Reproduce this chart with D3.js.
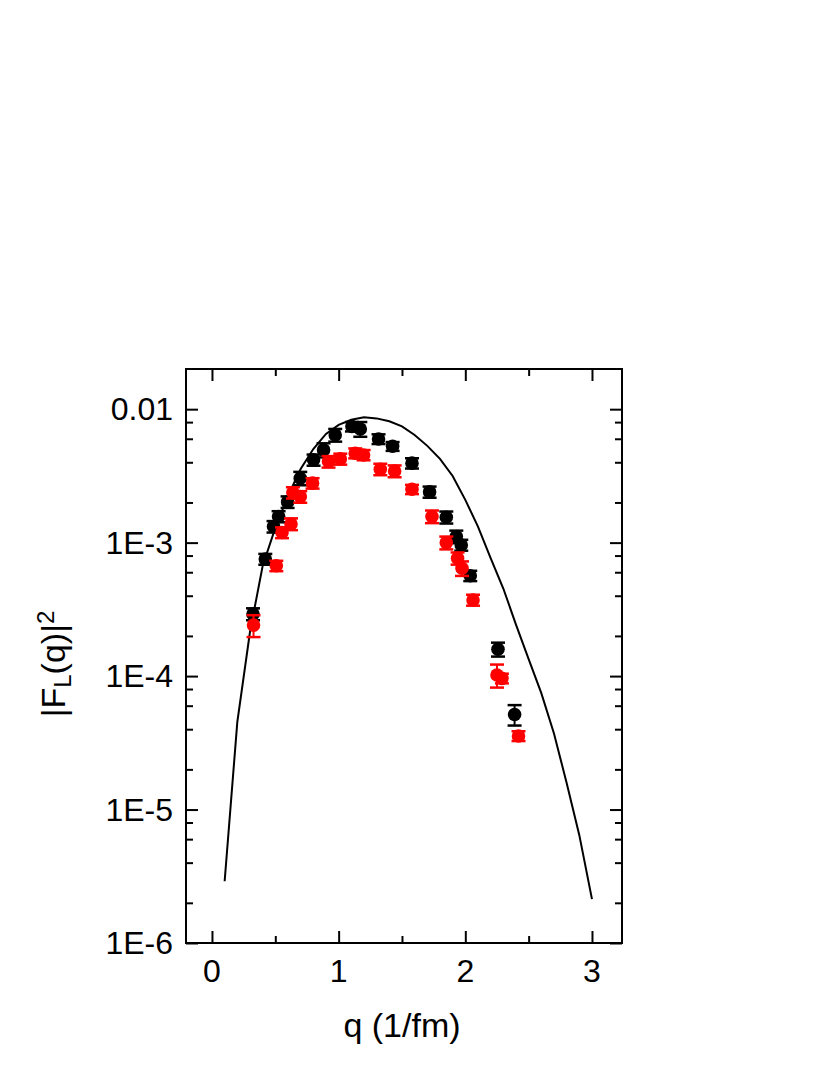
<!DOCTYPE html>
<html>
<head>
<meta charset="utf-8">
<script src="https://cdn.jsdelivr.net/npm/d3@7"></script>
<style>
  body { margin: 0; background: #fff; }
  text { font-family: "Liberation Sans", Arial, sans-serif; fill: #000; }
</style>
</head>
<body>
<div id="chart"></div>
<script>
// measured data (black set)
var qBlack = [0.324, 0.421, 0.486, 0.526, 0.597, 0.697, 0.802, 0.881, 0.973, 1.105, 1.171,
              1.315, 1.426, 1.579, 1.718, 1.850, 1.929, 1.968, 2.039, 2.258, 2.389];
var fBlack = [2.92e-4, 7.53e-4, 1.32e-3, 1.57e-3, 2.02e-3, 3.04e-3, 4.17e-3, 4.95e-3, 6.41e-3, 7.41e-3, 7.11e-3,
              5.98e-3, 5.27e-3, 3.94e-3, 2.40e-3, 1.55e-3, 1.11e-3, 9.6e-4, 5.65e-4, 1.59e-4, 5.16e-5];
var eBlack = [0.3e-4, 0.7e-4, 1.3e-4, 1.5e-4, 2.0e-4, 3.5e-4, 4.0e-4, 6.0e-4, 7.0e-4, 6.0e-4, 9.0e-4,
              5.0e-4, 4.0e-4, 3.5e-4, 2.3e-4, 1.6e-4, 1.2e-4, 0.9e-4, 0.5e-4, 0.19e-4, 0.9e-5];

// measured data (red set)
var qRed = [0.328, 0.508, 0.553, 0.624, 0.639, 0.697, 0.794, 0.920, 1.013, 1.131, 1.197,
            1.329, 1.442, 1.579, 1.737, 1.850, 1.939, 1.974, 2.061, 2.250, 2.289, 2.420];
var fRed = [2.41e-4, 6.71e-4, 1.19e-3, 1.38e-3, 2.37e-3, 2.21e-3, 2.79e-3, 4.05e-3, 4.24e-3, 4.68e-3, 4.54e-3,
            3.55e-3, 3.44e-3, 2.51e-3, 1.57e-3, 1.00e-3, 7.64e-4, 6.43e-4, 3.72e-4, 1.02e-4, 9.62e-5, 3.56e-5];
var eRed = [0.45e-4, 0.6e-4, 1.1e-4, 1.4e-4, 2.3e-4, 2.2e-4, 2.5e-4, 4.0e-4, 4.0e-4, 4.0e-4, 4.0e-4,
            3.5e-4, 3.5e-4, 2.0e-4, 1.7e-4, 1.1e-4, 0.8e-4, 0.8e-4, 0.35e-4, 2.0e-5, 0.8e-5, 0.3e-5];

// theory curve
var qCurve = [0.1, 0.2, 0.3, 0.4, 0.5, 0.6, 0.7, 0.8, 0.9, 1.0, 1.1, 1.2, 1.3, 1.4, 1.5,
              1.6, 1.7, 1.8, 1.9, 2.0, 2.1, 2.2, 2.3, 2.4, 2.5, 2.6, 2.7, 2.8, 2.9, 3.0];
var fCurve = [2.9e-6, 4.52e-5, 2.14e-4, 6.68e-4, 1.29e-3, 2.24e-3, 3.56e-3, 5.03e-3, 6.53e-3, 7.62e-3,
              8.32e-3, 8.71e-3, 8.53e-3, 8.11e-3, 7.43e-3, 6.41e-3, 5.31e-3, 4.24e-3, 3.16e-3, 2.09e-3,
              1.32e-3, 7.67e-4, 4.53e-4, 2.43e-4, 1.34e-4, 7.45e-5, 3.72e-5, 1.58e-5, 6.43e-6, 2.13e-6];

var xTicks = [0, 1, 2, 3];
var yTicks = [1e-6, 1e-5, 1e-4, 1e-3, 1e-2];
var yTickLabels = ["1E-6", "1E-5", "1E-4", "1E-3", "0.01"];

// layout
var W = 830, H = 1075;
var margin = {top: 369, right: 208, bottom: 132, left: 186};
var width = W - margin.left - margin.right;
var height = H - margin.top - margin.bottom;

var svg = d3.select("#chart")
  .append("svg")
  .attr("width", W)
  .attr("height", H)
  .append("g")
  .attr("transform", "translate(" + margin.left + "," + margin.top + ")");

var x = d3.scaleLinear().domain([-0.205, 3.237]).range([0, width]);
var y = d3.scaleLog().domain([1e-6, 0.0200]).range([height, 0]);

// minor ticks
var xMinor = [0.5, 1.5, 2.5];
var yMinor = [];
yTicks.forEach(function(d) {
  [2, 4, 6, 8].forEach(function(m) {
    if (d * m < y.domain()[1] * 0.999) yMinor.push(d * m);
  });
});

var major = 12, minor = 7;

// bottom and top axes
svg.append("g")
  .attr("transform", "translate(0," + height + ")")
  .call(d3.axisBottom(x).tickValues(xTicks).tickSize(-major).tickFormat(""));
svg.append("g")
  .attr("transform", "translate(0," + height + ")")
  .call(d3.axisBottom(x).tickValues(xMinor).tickSize(-minor).tickFormat(""));
svg.append("g")
  .call(d3.axisTop(x).tickValues(xTicks).tickSize(-major).tickFormat(""));
svg.append("g")
  .call(d3.axisTop(x).tickValues(xMinor).tickSize(-minor).tickFormat(""));

// left and right axes
svg.append("g")
  .call(d3.axisLeft(y).tickValues(yTicks).tickSize(-major).tickFormat(""));
svg.append("g")
  .call(d3.axisLeft(y).tickValues(yMinor).tickSize(-minor).tickFormat(""));
svg.append("g")
  .attr("transform", "translate(" + width + ",0)")
  .call(d3.axisRight(y).tickValues(yTicks).tickSize(-major).tickFormat(""));
svg.append("g")
  .attr("transform", "translate(" + width + ",0)")
  .call(d3.axisRight(y).tickValues(yMinor).tickSize(-minor).tickFormat(""));

svg.selectAll(".domain").remove();
svg.selectAll(".tick line").attr("stroke", "#000").attr("stroke-width", 2);

// frame
svg.append("rect")
  .attr("width", width)
  .attr("height", height)
  .attr("fill", "none")
  .attr("stroke", "#000")
  .attr("stroke-width", 2);

// tick labels
svg.selectAll(".xlab")
  .data(xTicks)
  .enter()
  .append("text")
  .attr("x", function(d) { return x(d); })
  .attr("y", height + 39)
  .attr("text-anchor", "middle")
  .style("font-size", "32px")
  .text(function(d) { return d; });

svg.selectAll(".ylab")
  .data(yTicks)
  .enter()
  .append("text")
  .attr("x", -13)
  .attr("y", function(d) { return y(d) + 11; })
  .attr("text-anchor", "end")
  .style("font-size", "32px")
  .text(function(d, i) { return yTickLabels[i]; });

// axis titles
svg.append("text")
  .attr("x", x(1.5))
  .attr("y", height + 94)
  .attr("text-anchor", "middle")
  .style("font-size", "34px")
  .text("q (1/fm)");

var yt = svg.append("text")
  .attr("transform", "translate(" + (65 - margin.left) + "," + (664 - margin.top) + ") rotate(-90)")
  .attr("text-anchor", "middle")
  .style("font-size", "34px");
yt.append("tspan").text("|F");
yt.append("tspan").attr("baseline-shift", "-25%").style("font-size", "24px").text("L");
yt.append("tspan").text("(q)|");
yt.append("tspan").attr("baseline-shift", "45%").style("font-size", "24px").text("2");

// theory curve
var curve = qCurve.map(function(q, i) { return [q, fCurve[i]]; });
svg.append("path")
  .datum(curve)
  .attr("fill", "none")
  .attr("stroke", "#000")
  .attr("stroke-width", 2)
  .attr("d", d3.line()
    .x(function(d) { return x(d[0]); })
    .y(function(d) { return y(d[1]); }));

// data sets with error bars
function drawSet(qs, fs, es, color) {
  var data = qs.map(function(q, i) { return {q: q, f: fs[i], e: es[i]}; });
  var g = svg.append("g");
  var pts = g.selectAll("g")
    .data(data)
    .enter()
    .append("g");
  pts.append("line")
    .attr("x1", function(d) { return x(d.q); })
    .attr("x2", function(d) { return x(d.q); })
    .attr("y1", function(d) { return y(d.f + d.e); })
    .attr("y2", function(d) { return y(Math.max(d.f - d.e, 1e-7)); })
    .attr("stroke", color)
    .attr("stroke-width", 2);
  [1, -1].forEach(function(s) {
    pts.append("line")
      .attr("x1", function(d) { return x(d.q) - 7; })
      .attr("x2", function(d) { return x(d.q) + 7; })
      .attr("y1", function(d) { return y(d.f + s * d.e); })
      .attr("y2", function(d) { return y(d.f + s * d.e); })
      .attr("stroke", color)
      .attr("stroke-width", 2.5);
  });
  pts.append("circle")
    .attr("cx", function(d) { return x(d.q); })
    .attr("cy", function(d) { return y(d.f); })
    .attr("r", 6.8)
    .attr("fill", color);
}

drawSet(qBlack, fBlack, eBlack, "#000");
drawSet(qRed, fRed, eRed, "#ff0000");
</script>
</body>
</html>
